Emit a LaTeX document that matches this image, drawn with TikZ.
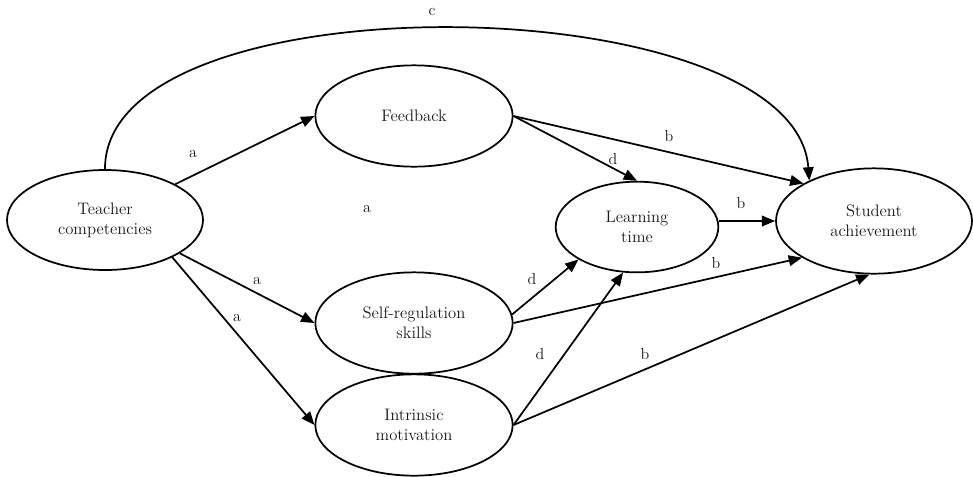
\documentclass[tikz,border=0pt]{standalone}
\usepackage{tikz}
\usetikzlibrary{shapes.geometric, arrows.meta}
\definecolor{PathColor}{RGB}{0,0,0}
\definecolor{TextColor}{RGB}{25,25,25}
\tikzstyle{arrow} = [line width=1.3pt, PathColor, -{Triangle[length=10pt, width=8pt]}]
\tikzset{
  construct/.style={ellipse, draw=PathColor, line width=1.3pt, inner sep=0pt, align=center, text=TextColor, font=\fontsize{12.5}{15}\selectfont},
  bigconstruct/.style={construct, minimum width=148pt, minimum height=76pt},
  coef/.style={inner sep=0pt, text=TextColor, font=\fontsize{12}{14}\selectfont}
}

\begin{document}
\begin{tikzpicture}[x=0.75pt, y=-0.75pt]
  \useasboundingbox (0,0) rectangle (973,476);

  % Constructs
  \node[bigconstruct, minimum width=147pt, minimum height=75pt] (teacher) at (105,220) {Teacher\\competencies};
  \node[bigconstruct] (feedback) at (414,116) {Feedback};
  \node[bigconstruct] (selfreg) at (414,323) {Self-regulation\\skills};
  \node[bigconstruct] (intrinsic) at (414,425) {Intrinsic\\motivation};
  \node[construct, minimum width=122pt, minimum height=68pt] (learning) at (637,227) {Learning\\time};
  \node[bigconstruct, minimum width=147pt, minimum height=79pt] (student) at (874,221) {Student\\achievement};

  % Direct path
  \draw[arrow] (teacher.north) .. controls (104,-25) and (795,-15) .. (student.148);
  \node[coef] (lblc) at (432,12) {c};

  % Paths a
  \draw[arrow] (teacher.27) -- (feedback.west);
  \draw[arrow] (teacher.-24) -- (selfreg.west);
  \draw[arrow] (teacher.-29) -- (intrinsic.west);
  \node[coef] (lbla1) at (193,154) {a};
  \node[coef] (lbla2) at (367,209) {a};
  \node[coef] (lbla3) at (257,281) {a};
  \node[coef] (lbla4) at (237,318) {a};

  % Paths b
  \draw[arrow] (feedback.east) -- (student.152);
  \draw[arrow] (learning.east |- student.west) -- (student.west);
  \draw[arrow] (selfreg.east) -- (student.207);
  \draw[arrow] (intrinsic.east) -- (student.265);
  \node[coef] (lblb1) at (669,136) {b};
  \node[coef] (lblb2) at (741,203) {b};
  \node[coef] (lblb3) at (716,263) {b};
  \node[coef] (lblb4) at (645,354) {b};

  % Paths d
  \draw[arrow] (feedback.east) -- (learning.north);
  \draw[arrow] (selfreg.5) -- (learning.209);
  \draw[arrow] (intrinsic.east) -- (learning.253);
  \node[coef] (lbld1) at (613,159) {d};
  \node[coef] (lbld2) at (532,279) {d};
  \node[coef] (lbld3) at (540,354) {d};
\end{tikzpicture}
\end{document}
